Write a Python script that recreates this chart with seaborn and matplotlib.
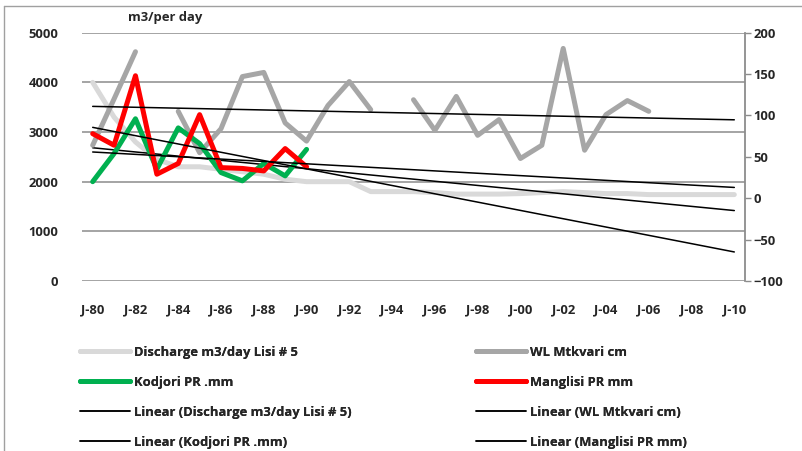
import matplotlib
matplotlib.use("Agg")
import matplotlib.pyplot as plt
import numpy as np
import pandas as pd
import seaborn as sns
from matplotlib import font_manager
from matplotlib.lines import Line2D

# Data
years = list(range(1980, 2011))
discharge = [4000, 3300, 2800, 2450, 2300, 2300, 2250, 2200, 2150, 2050,
             2000, 2000, 2000, 1800, 1800, 1800, 1780, 1750, 1750, 1750,
             1760, 1780, 1800, 1780, 1760, 1760, 1740, 1740, 1740, 1740, 1740]
wl_mtkvari = [64, 120, 177, np.nan, 105, 55, 84, 147, 152, 91,
              69, 112, 141, 107, np.nan, 119, 82, 123, 76, 95,
              48, 64, 181, 58, 101, 118, 105,
              np.nan, np.nan, np.nan, np.nan]
pr_years = list(range(1980, 1991))
kodjori = [20, 54, 96, 35, 85, 66, 31, 21, 42, 27, 59]
manglisi = [78, 64, 148, 29, 42, 101, 37, 36, 33, 60, 38]

tick_years = list(range(1980, 2011, 2))
tick_labels = ["J-%02d" % (y % 100) for y in tick_years]

names = ["Discharge m3/day Lisi # 5", "WL Mtkvari cm", "Kodjori PR .mm", "Manglisi PR mm"]
colors = ["#d9d9d9", "#a6a6a6", "#00b050", "#ff0000"]

# Build frames
df_q = pd.DataFrame({"year": years, "value": discharge})
df_wl = pd.DataFrame({"year": years, "value": wl_mtkvari})
df_wl["segment"] = df_wl["value"].isna().cumsum()
df_wl = df_wl.dropna()
df_k = pd.DataFrame({"year": pr_years, "value": kodjori})
df_m = pd.DataFrame({"year": pr_years, "value": manglisi})


def trend(df):
    coef = np.polyfit(df["year"], df["value"], 1)
    return pd.DataFrame({"year": years, "value": np.polyval(coef, years)})


# Pick a family that actually has a bold face (Calibri-like if possible)
def bold_family():
    have = {}
    for f in font_manager.fontManager.ttflist:
        w = f.weight if isinstance(f.weight, int) else 700 if "bold" in str(f.weight) else 400
        have.setdefault(f.name, set()).add(w)
    for name in ["Liberation Sans Narrow", "Open Sans", "Lato", "Noto Sans", "Liberation Sans"]:
        if name in have and any(w >= 700 for w in have[name]):
            return name
    return "DejaVu Sans"


family = bold_family()
fs = {"Lato": 9.3, "Open Sans": 9.4, "Liberation Sans Narrow": 10, "Noto Sans": 9.0}.get(family, 8.6)

sns.set_style("white")
plt.rcParams["font.family"] = [family, "DejaVu Sans"]
plt.rcParams["font.weight"] = "bold"

fig = plt.figure(figsize=(8.03, 4.51), dpi=100)
ax = fig.add_axes([82 / 803, 1 - 281 / 451, 663 / 803, 248.3 / 451])
ax2 = ax.twinx()

grid_c = "#8c8c8c"
lw = 3.6

# Primary axis: discharge
for y in range(0, 5001, 1000):
    ax.axhline(y, color=grid_c, lw=1.1, zorder=0)
sns.lineplot(data=df_q, x="year", y="value", ax=ax, color=colors[0], lw=lw)
sns.lineplot(data=trend(df_q), x="year", y="value", ax=ax, color="black", lw=1.1)

# Secondary axis: WL and precipitation
sns.lineplot(data=df_wl, x="year", y="value", units="segment", estimator=None,
             ax=ax2, color=colors[1], lw=lw)
sns.lineplot(data=df_k, x="year", y="value", ax=ax2, color=colors[2], lw=lw)
sns.lineplot(data=df_m, x="year", y="value", ax=ax2, color=colors[3], lw=lw)
for d in [df_wl, df_k, df_m]:
    sns.lineplot(data=trend(d), x="year", y="value", ax=ax2, color="black", lw=1.1)

ax.set_xlim(1979.5, 2010.5)
ax.set_ylim(0, 5000)
ax2.set_ylim(-100, 200)
ax.set_yticks(range(0, 5001, 1000))
ax2.set_yticks(range(-100, 201, 50))
ax.set_xticks(tick_years)
ax.set_xticklabels(tick_labels)
ax.set_xlabel("")
ax.set_ylabel("")
ax2.set_ylabel("")

for a in [ax, ax2]:
    for s in a.spines.values():
        s.set_visible(False)
ax2.spines["right"].set_visible(True)
ax2.spines["right"].set_color(grid_c)
ax2.spines["right"].set_linewidth(1.3)

ax.tick_params(axis="y", length=0, pad=17, labelsize=fs)
ax.tick_params(axis="x", length=0, pad=16, labelsize=fs)
ax2.tick_params(axis="y", length=4, width=1, color=grid_c, pad=2, labelsize=fs)
for lab in ax.get_yticklabels() + ax.get_xticklabels() + ax2.get_yticklabels():
    lab.set_fontweight("bold")

fig.text(128 / 803, 1 - 17 / 451, "m3/per day", fontsize=fs, fontweight="bold", va="center")

# Chart frame (top and left edges)
fig.add_artist(Line2D([4 / 803, 4 / 803], [0, 1 - 6 / 451], transform=fig.transFigure, color="#a0a0a0", lw=1))
fig.add_artist(Line2D([4 / 803, 1], [1 - 6 / 451, 1 - 6 / 451], transform=fig.transFigure, color="#a0a0a0", lw=1))

# Legend (Excel order, two columns placed separately)
h = [Line2D([], [], color=c, lw=lw) for c in colors]
t = [Line2D([], [], color="black", lw=1.1) for _ in names]
columns = [
    ([h[0], h[2], t[0], t[2]],
     [names[0], names[2], "Linear (" + names[0] + ")", "Linear (" + names[2] + ")"], 68),
    ([h[1], h[3], t[1], t[3]],
     [names[1], names[3], "Linear (" + names[1] + ")", "Linear (" + names[3] + ")"], 464),
]
for hs, ls, x0 in columns:
    leg = fig.legend(hs, ls, ncol=1, frameon=False, loc="upper left",
                     bbox_to_anchor=(x0 / 803, 1 - 334 / 451),
                     prop={"weight": "bold", "size": fs},
                     handlelength=50 / (fs * 1.389), handletextpad=0.35, labelspacing=1.3)
    fig.add_artist(leg)

fig.savefig("out.png", dpi=100)
